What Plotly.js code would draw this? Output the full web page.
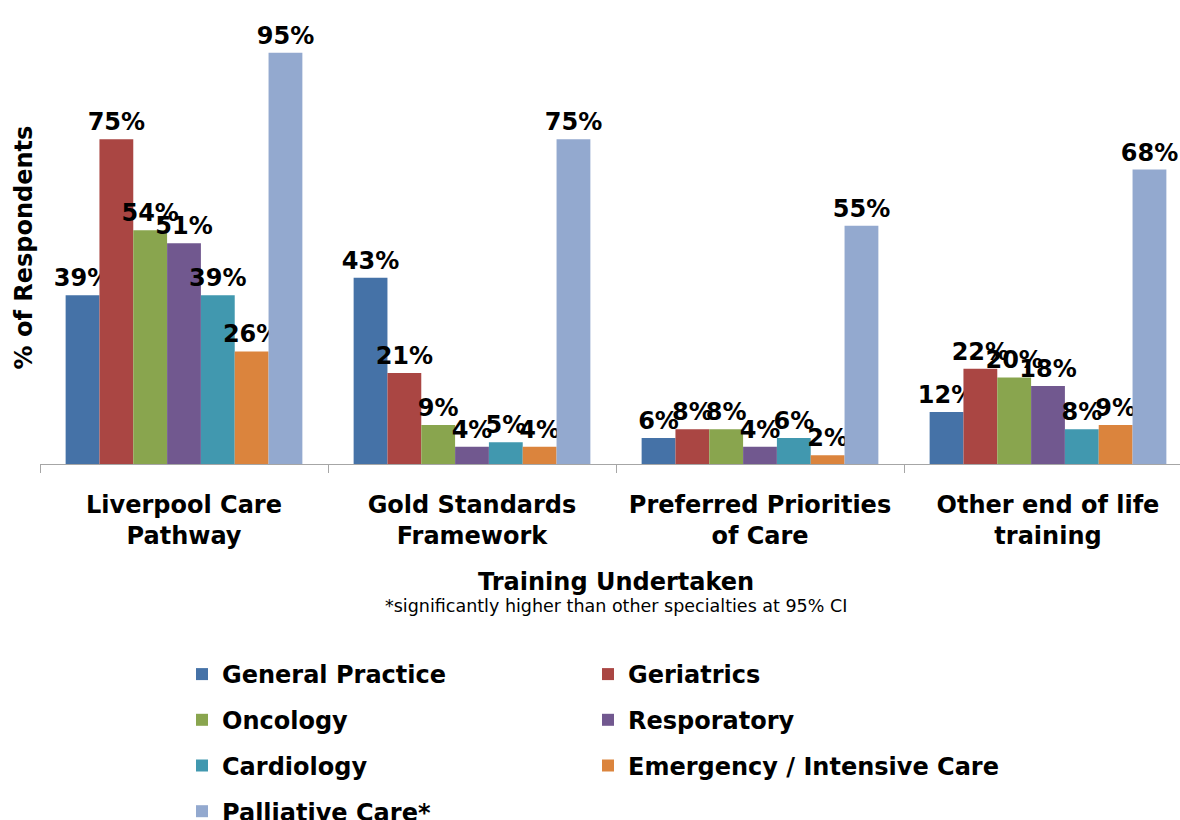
<!DOCTYPE html>
<html><head><meta charset="utf-8">
<script src="https://cdn.plot.ly/plotly-3.0.1.min.js"></script>
<style>html,body{margin:0;padding:0;background:#fff;overflow:hidden}</style>
</head><body><div id="chart" style="width:1180px;height:820px"></div>
<script>
const categoryLabels = ["Liverpool Care<br>Pathway", "Gold Standards<br>Framework", "Preferred Priorities<br>of Care", "Other end of life<br>training"];
const seriesNames = ["General Practice", "Geriatrics", "Oncology", "Resporatory", "Cardiology", "Emergency / Intensive Care", "Palliative Care*"];
const generalPractice = [39, 43, 6, 12];
const geriatrics = [75, 21, 8, 22];
const oncology = [54, 9, 8, 20];
const respiratory = [51, 4, 4, 18];
const cardiology = [39, 5, 6, 8];
const emergency = [26, 4, 2, 9];
const palliative = [95, 75, 55, 68];
const seriesValues = [generalPractice, geriatrics, oncology, respiratory, cardiology, emergency, palliative];
const colors = ["#4572A7", "#AA4643", "#89A54E", "#71588F", "#4198AF", "#DB843D", "#93A9CF"];
const legendIds = ["legend", "legend2", "legend", "legend2", "legend", "legend2", "legend"];
const xTitle = "Training Undertaken";
const xSubtitle = "*significantly higher than other specialties at 95% CI";
const yTitle = "% of Respondents";

const FAM = "DejaVu Sans, Verdana, sans-serif";
const BOLD = {family: FAM, size: 24, color: "#000", weight: "bold"};

const traces = seriesNames.map((name, i) => ({
  type: "bar",
  name: name,
  x: categoryLabels,
  y: seriesValues[i],
  marker: {color: colors[i], line: {width: 0}},
  texttemplate: "%{y}%",
  textposition: "outside",
  textangle: 0,
  constraintext: "none",
  cliponaxis: false,
  textfont: {family: FAM, size: 24, color: "#000", weight: "bold"},
  legend: legendIds[i],
  legendgroup: "g" + i,
  hoverinfo: "skip"
}));

function legendColumn(xPx, yTopPx) {
  return {
    orientation: "v",
    x: (xPx - 40) / 1140, xanchor: "left",
    y: (464 - yTopPx) / 433, yanchor: "top",
    bgcolor: "rgba(0,0,0,0)",
    font: BOLD,
    traceorder: "grouped",
    tracegroupgap: 11.5
  };
}

const layout = {
  width: 1180, height: 820,
  paper_bgcolor: "#fff", plot_bgcolor: "#fff",
  margin: {l: 40, r: 0, t: 31, b: 356, autoexpand: false},
  barmode: "group", bargap: 0.178, bargroupgap: 0,
  showlegend: true,
  xaxis: {
    type: "category",
    range: [-0.5, -0.5 + 1140 / 288],
    showline: true, linecolor: "#A6A6A6", linewidth: 1,
    ticks: "outside", tickson: "boundaries", ticklen: 8, tickcolor: "#A6A6A6",
    ticklabelstandoff: 19,
    tickfont: BOLD,
    showgrid: false, zeroline: false, fixedrange: true
  },
  yaxis: {range: [0, 100], visible: false, fixedrange: true},
  legend: legendColumn(182, 652),
  legend2: legendColumn(588, 652),
  annotations: [
    {text: yTitle, xref: "paper", yref: "paper", x: (23 - 40) / 1140, y: 0.5, xanchor: "center", yanchor: "middle",
     textangle: -90, showarrow: false, font: {family: FAM, size: 24, color: "#000", weight: "bold"}},
    {text: xTitle, xref: "x", yref: "paper", x: 1.5, y: (464 - 582) / 433, xanchor: "center", yanchor: "middle",
     showarrow: false, font: BOLD},
    {text: xSubtitle, xref: "x", yref: "paper", x: 1.5, y: (464 - 606) / 433, xanchor: "center", yanchor: "middle",
     showarrow: false, font: {family: FAM, size: 17.5, color: "#000"}}
  ]
};

Plotly.newPlot("chart", traces, layout, {displayModeBar: false, staticPlot: true});
</script>
</body></html>
